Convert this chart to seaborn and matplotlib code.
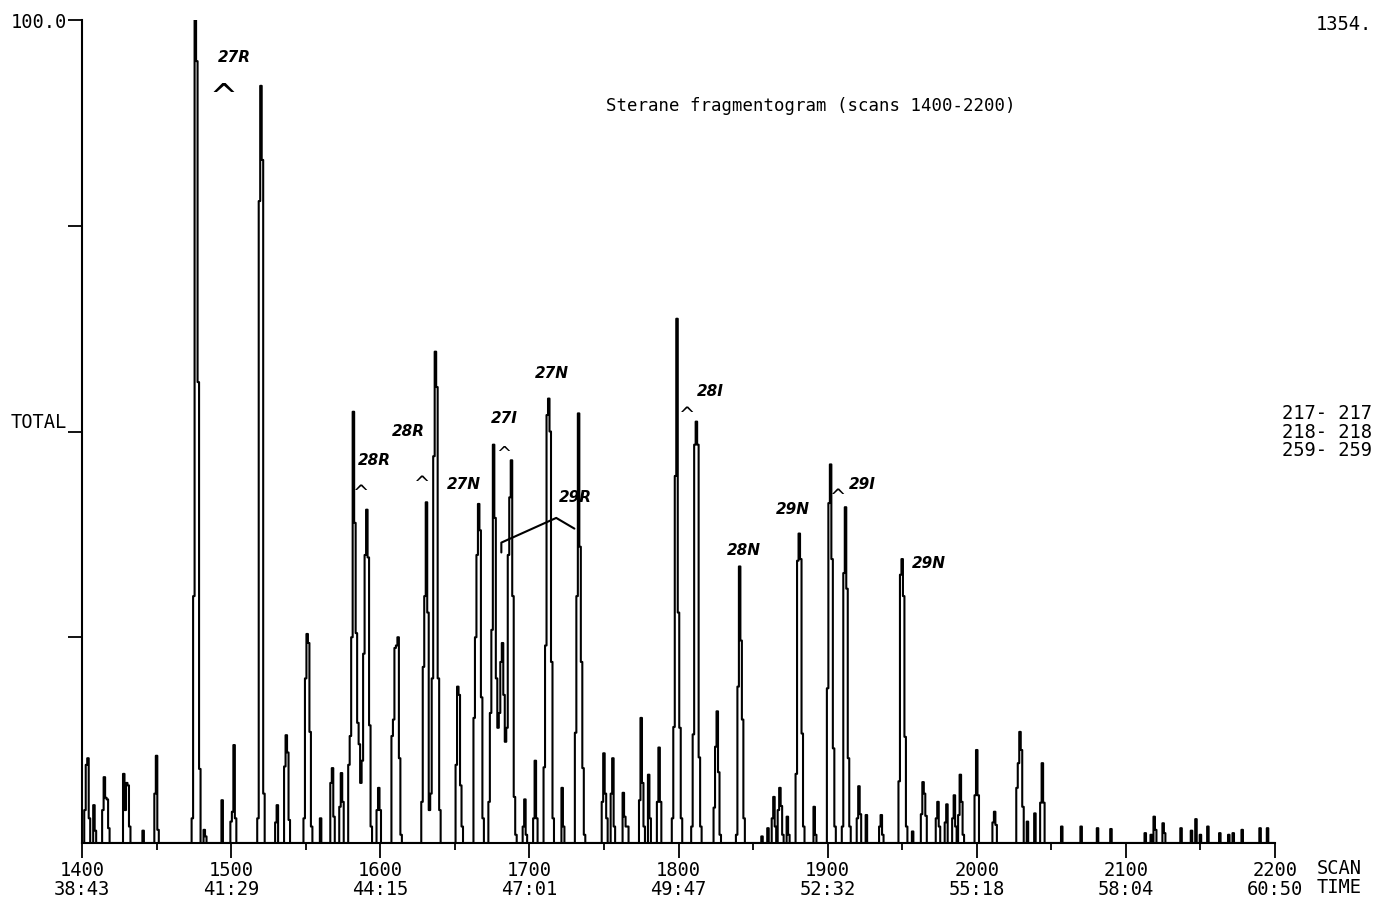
import numpy as np
import pandas as pd
import matplotlib
matplotlib.use("Agg")
import matplotlib.pyplot as plt
import seaborn as sns

# each peak: first scan, then relative abundance (% of max) on consecutive scans
peak_start = [1402, 1408, 1414, 1428, 1441, 1449, 1474, 1482, 1494, 1500,
              1518, 1530, 1536, 1549, 1560, 1567, 1573, 1579, 1598, 1608,
              1628, 1651, 1663, 1673, 1696, 1703, 1710, 1722, 1731, 1749,
              1755, 1763, 1774, 1780, 1786, 1796, 1809, 1824, 1839, 1856,
              1860, 1863, 1867, 1873, 1879, 1891, 1900, 1910, 1920, 1926,
              1935, 1948, 1957, 1963, 1973, 1979, 1984, 1988, 1999, 2011,
              2027, 2034, 2039, 2043, 2057, 2070, 2081, 2090, 2113, 2117,
              2119, 2125, 2137, 2144, 2147, 2150, 2155, 2163, 2169, 2172,
              2178, 2190, 2195]
peak_heights = [
    [4, 9.5, 10.3, 3], [4.6, 1.5], [4, 8, 5.5, 5.3, 1.8], [8.4, 4, 7.3, 7, 2],
    [1.5], [6, 10.6, 1.6], [3, 30, 100, 95, 56, 9], [1.6, 0.8], [5.2],
    [2.6, 3.8, 11.9, 3],
    [3, 78, 92, 83, 6], [2.5, 4.6], [9.3, 13.1, 11, 2.8],
    [3, 20, 25.4, 24.3, 13.5, 2], [3], [7.3, 9.1, 3.2], [4.4, 8.5, 5],
    [9.5, 13, 25, 52.4, 38.9, 25.5, 14.6, 12, 7.3, 10, 23, 35, 40.5, 34.7, 14.3, 2],
    [4, 6.7, 4], [13, 15, 23.7, 24, 25, 10.3, 1],
    [5, 21.4, 30, 41.4, 28, 4, 6, 20, 47, 59.7, 55.4, 20, 4],
    [9.5, 19, 18, 7, 2], [15.2, 25, 35, 41.2, 38, 17.7, 3],
    [5, 15.8, 25.9, 48.4, 39.5, 20, 14, 15.8, 22, 24.3, 18, 12.3, 14, 35, 42, 46.5, 30, 5.6, 1],
    [2, 5.3, 1], [3, 10, 3], [9.2, 24, 52, 54, 50, 22, 3], [6.7, 2],
    [13.4, 30, 52.2, 36, 22, 9.1, 1], [5, 10.9, 6, 3],
    [6, 10.3, 2], [6.1, 3.2, 2, 2], [5.2, 15.2, 7.3, 2], [8.3, 3], [5, 11.6, 5],
    [3, 14.1, 44.6, 63.7, 28, 14, 3], [2, 13.2, 48.4, 51.2, 48.4, 10.4, 2],
    [4.3, 11.7, 16, 8.6, 1], [1, 19, 33.6, 24.6, 15, 3], [0.8],
    [1.8], [3, 5.6, 2], [4, 6.7, 4.5, 1], [3.2, 1], [8.4, 34.3, 37.6, 34.5, 13.3, 2],
    [4.4, 1], [18.8, 41.3, 46, 34.5, 11.5, 2], [2, 32.8, 40.8, 30.9, 10.3, 2],
    [3, 6.9, 3.5], [3.4],
    [2, 3.4, 1], [7.5, 32.6, 34.5, 30, 12.9, 2], [1.4], [3.5, 7.4, 6, 3.3],
    [3, 5, 2], [2.5, 4.7], [3, 5.8, 2], [3.4, 8.3, 5, 1], [5.8, 11.3, 5.8],
    [2.5, 3.8, 2.2],
    [6.7, 9.7, 13.5, 11.3, 4.4], [2.6], [3.6], [4.9, 9.7, 4.9], [2], [2], [1.8],
    [1.7], [1.2], [1],
    [3.2, 1.6], [2.4, 1.2], [1.8], [1.5], [2.9], [1], [2], [1.2], [1], [1.2],
    [1.6], [1.8], [1.8],
]

scan_ticks = [1400, 1500, 1600, 1700, 1800, 1900, 2000, 2100, 2200]
time_labels = ["38:43", "41:29", "44:15", "47:01", "49:47", "52:32", "55:18", "58:04", "60:50"]

# handwritten peak identifications
notes = ["27R", "28R", "28R", "27N", "27I", "27N", "29R", "28I", "28N", "29N", "29I", "29N"]
note_scan = [1502, 1596, 1619, 1656, 1683, 1715, 1731, 1821, 1844, 1876.5, 1923, 1968]
note_level = [95.5, 46.5, 50, 43.5, 51.6, 57, 42, 54.8, 35.6, 40.5, 43.5, 34]
caret_scan = [1495, 1587, 1628, 1683, 1806, 1907]
caret_level = [90.5, 42.5, 43.5, 47.3, 52, 42]
caret_size = [24, 14, 14, 13, 14, 14]
bracket_scan = [1681.2, 1681.2, 1718, 1730.2]
bracket_level = [35.3, 36.5, 39.5, 38.2]

scans = np.arange(1400, 2201)
abundance = np.zeros(len(scans))
for start, hs in zip(peak_start, peak_heights):
    for i, h in enumerate(hs):
        k = start - 1400 + i
        abundance[k] = max(abundance[k], h)
df = pd.DataFrame({"scan": scans, "abundance": abundance})

sns.set_style("ticks")
plt.rcParams['font.family'] = ['DejaVu Sans Mono', 'DejaVu Sans']
plt.rcParams['text.color'] = 'black'
plt.rcParams['xtick.color'] = 'black'
plt.rcParams['ytick.color'] = 'black'
MONO = 'DejaVu Sans Mono'

fig = plt.figure(figsize=(13.75, 9.05), dpi=100)
ax = fig.add_axes([82 / 1375, 62 / 905, (1275 - 82) / 1375, (843 - 20) / 905])

sns.lineplot(data=df, x="scan", y="abundance", ax=ax, color="black",
             linewidth=1.5, drawstyle="steps-mid", estimator=None, sort=False)

ax.set_xlim(1400, 2200)
ax.set_ylim(0, 100)
ax.set_xlabel("")
ax.set_ylabel("")
for side in ["top", "right"]:
    ax.spines[side].set_visible(False)
for side in ["left", "bottom"]:
    ax.spines[side].set_color("black")
    ax.spines[side].set_linewidth(1.5)

ax.set_xticks(scan_ticks)
ax.set_xticklabels([f"{s}\n{t}" for s, t in zip(scan_ticks, time_labels)],
                   fontsize=13.5, family=MONO, linespacing=1.0)
ax.set_xticks([s + 50 for s in scan_ticks[:-1]], minor=True)
ax.tick_params(axis="x", which="major", direction="out", length=11, width=1.3,
               pad=2, colors="black")
ax.tick_params(axis="x", which="minor", direction="out", length=5, width=1.3)

ax.set_yticks([25, 50, 75, 100])
ax.set_yticklabels(["", "TOTAL", "", "100.0"], fontsize=13.5, family=MONO)
ax.get_yticklabels()[1].set_verticalalignment("bottom")
ax.tick_params(axis="y", direction="out", length=10, width=1.3, pad=1, colors="black")

ax.text(1751.5, 89.5, "Sterane fragmentogram (scans 1400-2200)", fontsize=12.5,
        family=MONO, va="center", ha="left")
fig.text(1372 / 1375, 1 - 25 / 905, "1354.", fontsize=13.5, family=MONO,
         ha="right", va="center")
fig.text(1372 / 1375, 1 - 432 / 905, "217- 217\n218- 218\n259- 259", fontsize=13.5,
         family=MONO, ha="right", va="center", linespacing=0.95)
fig.text(1362 / 1375, 1 - 878 / 905, "SCAN\nTIME", fontsize=13.5, family=MONO,
         ha="right", va="center", linespacing=1.0)

for t, s, lv in zip(notes, note_scan, note_level):
    ax.text(s, lv, t, fontsize=11, family="DejaVu Sans", fontweight="bold",
            fontstyle="italic", ha="center", va="center")
for s, lv, fs in zip(caret_scan, caret_level, caret_size):
    ax.text(s, lv, "^", fontsize=fs, family="DejaVu Sans", ha="center", va="center")
ax.plot(bracket_scan, bracket_level, color="black", linewidth=1.5)

fig.savefig("out.png", dpi=100)
